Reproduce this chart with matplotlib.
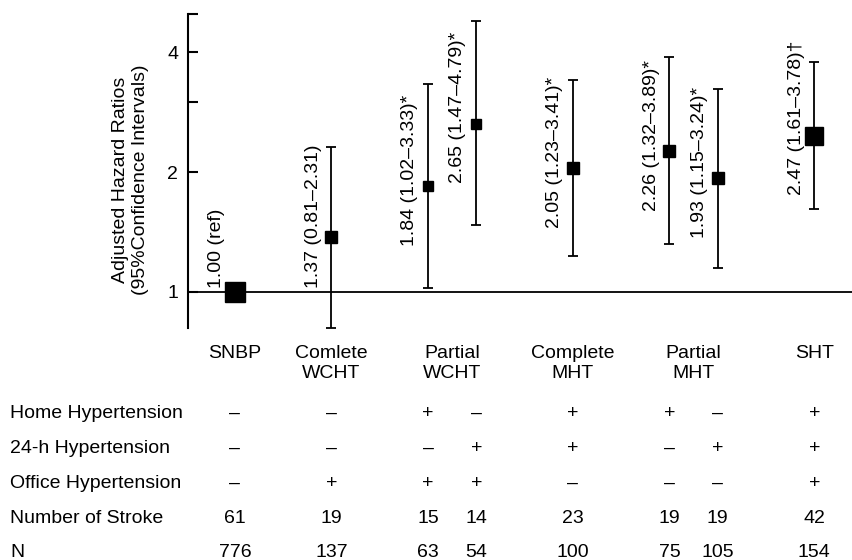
import matplotlib
matplotlib.use("Agg")
import matplotlib.pyplot as plt
import matplotlib.transforms as mtransforms

plt.rcParams['font.family'] = ['Liberation Sans', 'DejaVu Sans']

# Данные: отношения рисков и доверительные интервалы
hr = [1.00, 1.37, 1.84, 2.65, 2.05, 2.26, 1.93, 2.47]
ci_low = [1.00, 0.81, 1.02, 1.47, 1.23, 1.32, 1.15, 1.61]
ci_high = [1.00, 2.31, 3.33, 4.79, 3.41, 3.89, 3.24, 3.78]
hr_labels = ["1.00 (ref)", "1.37 (0.81\u20132.31)", "1.84 (1.02\u20133.33)*",
             "2.65 (1.47\u20134.79)*", "2.05 (1.23\u20133.41)*", "2.26 (1.32\u20133.89)*",
             "1.93 (1.15\u20133.24)*", "2.47 (1.61\u20133.78)\u2020"]

groups = ["SNBP", "Comlete\nWCHT", "Partial\nWCHT", "Complete\nMHT", "Partial\nMHT", "SHT"]
row_names = ["Home Hypertension", "24-h Hypertension", "Office Hypertension",
             "Number of Stroke", "N"]
home_ht = ["\u2013", "\u2013", "+", "\u2013", "+", "+", "\u2013", "+"]
h24_ht = ["\u2013", "\u2013", "\u2013", "+", "+", "\u2013", "+", "+"]
office_ht = ["\u2013", "+", "+", "+", "\u2013", "\u2013", "\u2013", "+"]
n_stroke = [61, 19, 15, 14, 23, 19, 19, 42]
n_total = [776, 137, 63, 54, 100, 75, 105, 154]

# Раскладка
xpos = [0, 2, 4, 5, 7, 9, 10, 12]
group_x = [0, 2, 4.5, 7, 9.5, 12]
marker_sizes = [14.5, 9, 6.8, 7.2, 9, 8.5, 8.5, 13]

W, H = 853, 560
fig = plt.figure(figsize=(W / 100, H / 100), dpi=100)
ax = fig.add_axes([188 / W, 1 - 328 / H, 1 - 188 / W, (328 - 14) / H])
ax.set_yscale('log')
ax.set_ylim(0.81, 5)
ax.set_xlim(-0.97, 12.8)

ax.axhline(1, color='black', lw=1.3, zorder=1)

for i in range(len(hr)):
    if i > 0:
        ax.errorbar(xpos[i], hr[i], yerr=[[hr[i] - ci_low[i]], [ci_high[i] - hr[i]]],
                    fmt='none', ecolor='black', elinewidth=1.3, capsize=3.5,
                    capthick=1.3, clip_on=False, zorder=2)
    ax.plot(xpos[i], hr[i], marker='s', color='black', markersize=marker_sizes[i],
            linestyle='none', zorder=3, clip_on=False)
    ax.text(xpos[i] - 0.38, max(hr[i] * 0.707, 1.02), hr_labels[i], rotation=90,
            ha='center', va='bottom', fontsize=14)

for s in ['top', 'right', 'bottom']:
    ax.spines[s].set_visible(False)
ax.spines['left'].set_linewidth(1.5)
ax.set_xticks([])
ax.set_yticks([1, 2, 3, 4, 5])
ax.set_yticklabels(['1', '2', '', '4', ''])
ax.yaxis.set_minor_locator(matplotlib.ticker.NullLocator())
ax.tick_params(axis='y', direction='in', length=7.5, width=1.5, labelsize=14, pad=7)

fig.text(130.5 / W, 1 - 180 / H, "Adjusted Hazard Ratios\n(95%Confidence Intervals)",
         rotation=90, ha='center', va='center', fontsize=14, linespacing=1.25)

# Таблица под графиком
trans = mtransforms.blended_transform_factory(ax.transData, fig.transFigure)
for gx, g in zip(group_x, groups):
    ax.text(gx, 1 - 345 / H, g, transform=trans, ha='center', va='top',
            fontsize=14, linespacing=1.2, clip_on=False)

row_base = [418, 453, 488, 523, 557]
rows = [home_ht, h24_ht, office_ht, n_stroke, n_total]
for ry, name, vals in zip(row_base, row_names, rows):
    fig.text(10 / W, 1 - ry / H, name, ha='left', va='baseline', fontsize=14)
    for x, v in zip(xpos, vals):
        ax.text(x, 1 - ry / H, str(v), transform=trans, ha='center', va='baseline',
                fontsize=14, clip_on=False)

fig.savefig("out.png", dpi=100)
